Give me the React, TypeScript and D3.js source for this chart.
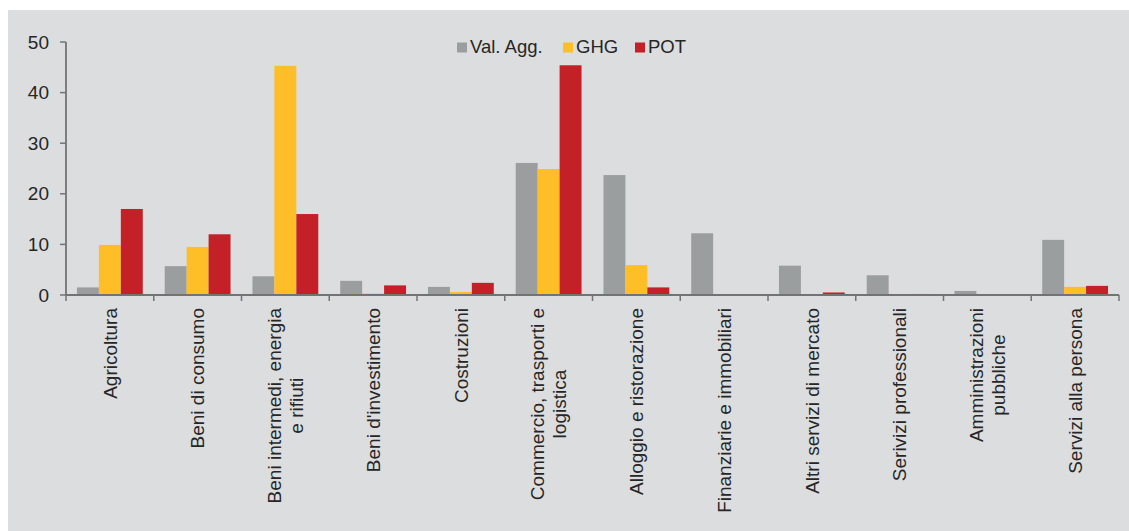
import * as d3 from "d3";
import { useEffect, useRef } from "react";

const categories: string[][] = [
    ["Agricoltura"],
    ["Beni di consumo"],
    ["Beni intermedi, energia", "e rifiuti"],
    ["Beni d'investimento"],
    ["Costruzioni"],
    ["Commercio, trasporti e", "logistica"],
    ["Alloggio e ristorazione"],
    ["Finanziarie e immobiliari"],
    ["Altri servizi di mercato"],
    ["Serivizi professionali"],
    ["Amministrazioni", "pubbliche"],
    ["Servizi alla persona"],
];

const seriesNames = ["Val. Agg.", "GHG", "POT"];
const valAgg = [1.5, 5.7, 3.7, 2.8, 1.6, 26.1, 23.7, 12.2, 5.8, 3.9, 0.8, 10.9];
const ghg = [9.9, 9.5, 45.3, 0.3, 0.6, 24.9, 5.9, 0.15, 0.2, 0, 0, 1.6];
const pot = [17.0, 12.0, 16.0, 1.9, 2.4, 45.4, 1.5, 0, 0.5, 0.2, 0, 1.8];
const yTicks = [0, 10, 20, 30, 40, 50];

const colors = ["#9b9e9f", "#fdbe27", "#c42027"];
const FONT = "'Liberation Sans', Arial, sans-serif";
const TEXT = "#262626";
const AXIS = "#727375";

export default function App() {
    const ref = useRef<SVGSVGElement | null>(null);

    useEffect(() => {
        if (!ref.current) return;
        const svg = d3.select(ref.current);
        svg.selectAll("*").remove();

        const width = 1129;
        const height = 531;
        const left = 66;
        const right = 1119;
        const base = 295;
        const top = 42;

        // panel
        svg.append("rect").attr("width", width).attr("height", height).attr("fill", "#ffffff");
        svg.append("rect")
            .attr("x", 8).attr("y", 10)
            .attr("width", width - 8).attr("height", height - 10)
            .attr("fill", "#dcdddf");

        const idx = categories.map((_, i) => String(i));
        const x0 = d3.scaleBand().domain(idx).range([left, right])
            .paddingInner(0.25).paddingOuter(0.125);
        const step = x0.step();
        const x1 = d3.scaleBand().domain(seriesNames).range([0, x0.bandwidth()]);
        const y = d3.scaleLinear().domain([0, 50]).range([base, top]);

        const series = [valAgg, ghg, pot];

        // bars
        const groups = svg.append("g")
            .selectAll("g")
            .data(idx)
            .join("g")
            .attr("transform", (d) => `translate(${x0(d)},0)`);
        groups.selectAll("rect")
            .data((d) => seriesNames.map((name, s) => ({ name, s, value: series[s][+d] })))
            .join("rect")
            .attr("x", (d) => x1(d.name)!)
            .attr("y", (d) => y(d.value))
            .attr("width", x1.bandwidth())
            .attr("height", (d) => y(0) - y(d.value))
            .attr("fill", (d) => colors[d.s]);

        // y axis
        const yAxis = svg.append("g");
        yAxis.append("line")
            .attr("x1", left).attr("x2", left)
            .attr("y1", y(50)).attr("y2", y(0))
            .attr("stroke", AXIS).attr("stroke-width", 1.8);
        yAxis.selectAll("line.tick")
            .data(yTicks)
            .join("line")
            .attr("class", "tick")
            .attr("x1", left - 6).attr("x2", left)
            .attr("y1", (d) => y(d)).attr("y2", (d) => y(d))
            .attr("stroke", AXIS).attr("stroke-width", 1.5);
        yAxis.selectAll("text")
            .data(yTicks)
            .join("text")
            .attr("x", left - 17)
            .attr("y", (d) => y(d))
            .attr("dy", "0.35em")
            .attr("text-anchor", "end")
            .attr("font-family", FONT)
            .attr("font-size", 19)
            .attr("fill", TEXT)
            .text((d) => d);

        // x axis
        const xAxis = svg.append("g");
        xAxis.append("line")
            .attr("x1", left).attr("x2", right)
            .attr("y1", base).attr("y2", base)
            .attr("stroke", AXIS).attr("stroke-width", 1.8);
        const bounds = d3.range(categories.length + 1).map((i) => left + i * step);
        xAxis.selectAll("line.tick")
            .data(bounds)
            .join("line")
            .attr("class", "tick")
            .attr("x1", (d) => d).attr("x2", (d) => d)
            .attr("y1", base).attr("y2", base + 6)
            .attr("stroke", AXIS).attr("stroke-width", 1.5);

        // category labels, rotated, lines centred on each other
        const labelTop = 308;
        const lineGap = 22;
        categories.forEach((lines, i) => {
            const cx = (x0(String(i)) ?? 0) + x0.bandwidth() / 2;
            const g = xAxis.append("g").attr("transform", `translate(${cx},${labelTop}) rotate(-90)`);
            const texts = lines.map((line, j) =>
                g.append("text")
                    .attr("y", (j - (lines.length - 1) / 2) * lineGap)
                    .attr("dy", "0.35em")
                    .attr("text-anchor", "middle")
                    .attr("font-family", FONT)
                    .attr("font-size", 19)
                    .attr("fill", TEXT)
                    .text(line)
            );
            const maxLen = d3.max(texts, (t) => (t.node() as SVGTextElement).getComputedTextLength()) ?? 0;
            texts.forEach((t) => t.attr("x", -maxLen / 2));
        });

        // legend
        const legendX = [457, 563, 635];
        const legend = svg.append("g");
        seriesNames.forEach((name, s) => {
            legend.append("rect")
                .attr("x", legendX[s]).attr("y", 42.5)
                .attr("width", 10).attr("height", 10)
                .attr("fill", colors[s]);
            legend.append("text")
                .attr("x", legendX[s] + 13)
                .attr("y", 53)
                .attr("font-family", FONT)
                .attr("font-size", 18.5)
                .attr("fill", TEXT)
                .text(name);
        });
    }, []);

    return (
        <svg
            ref={ref}
            width={1129}
            height={531}
            style={{ position: "absolute", left: 0, top: 0, display: "block" }}
        ></svg>
    );
}
